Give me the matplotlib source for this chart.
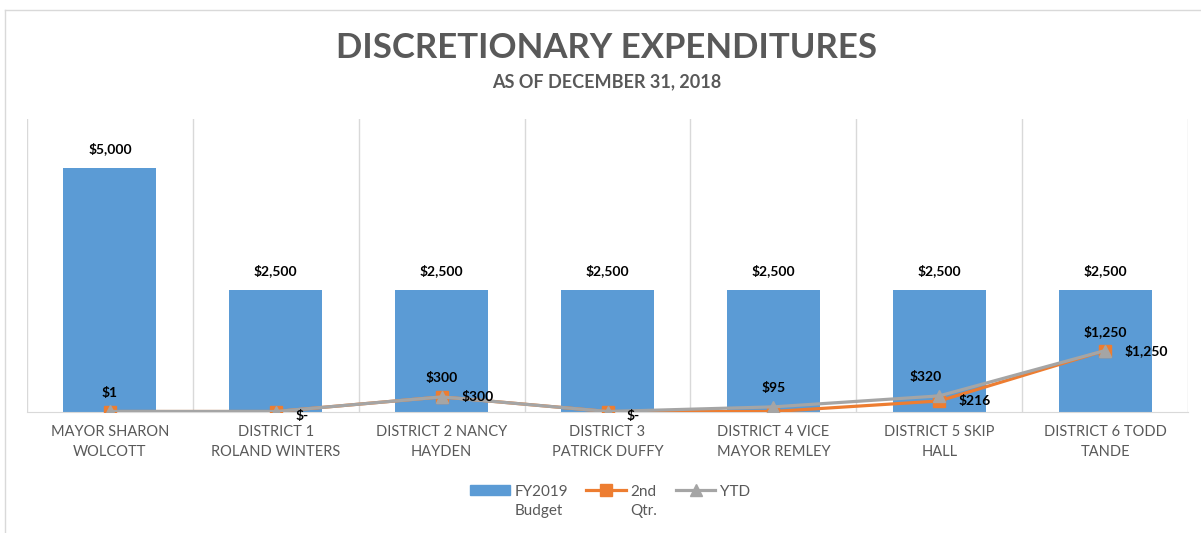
import matplotlib
matplotlib.use("Agg")
import matplotlib.pyplot as plt
from matplotlib.patches import Patch
from matplotlib.lines import Line2D
from matplotlib.offsetbox import HPacker

plt.rcParams['font.family'] = ['Lato', 'DejaVu Sans']

# Данные
categories = ["MAYOR SHARON\nWOLCOTT", "DISTRICT 1\nROLAND WINTERS", "DISTRICT 2 NANCY\nHAYDEN",
              "DISTRICT 3\nPATRICK DUFFY", "DISTRICT 4 VICE\nMAYOR REMLEY", "DISTRICT 5 SKIP\nHALL",
              "DISTRICT 6 TODD\nTANDE"]
budget = [5000, 2500, 2500, 2500, 2500, 2500, 2500]
qtr2 = [0, 0, 300, 0, 0, 216, 1250]
ytd = [1, 0, 300, 0, 95, 320, 1250]
qtr2_labels = [None, "$-", "$300", "$-", None, "$216", "$1,250"]
ytd_labels = ["$1", None, "$300", None, "$95", "$320", "$1,250"]

blue = '#5B9BD5'
orange = '#ED7D31'
gray = '#A5A5A5'
txt = '#595959'

fig = plt.figure(figsize=(12.01, 5.33), dpi=100)
ax = fig.add_axes([27 / 1201, (533 - 411.5) / 533, 1161 / 1201, 292.5 / 533])

x = list(range(len(categories)))
ax.bar(x, budget, width=0.56, color=blue, zorder=2)
ax.plot(x, qtr2, color=orange, lw=2.3, marker='s', ms=8, zorder=3)
ax.plot(x, ytd, color=gray, lw=2.3, marker='^', ms=9, zorder=4)

ax.set_xlim(-0.5, len(categories) - 0.5)
ax.set_ylim(0, 6000)

# Подписи над столбцами
for i, v in enumerate(budget):
    ax.annotate(f"${v:,}", (i, v), xytext=(0, 9), textcoords='offset points',
                ha='center', va='bottom', fontsize=10, fontweight='bold', color='black')

# Подписи линий
for i, lab in enumerate(qtr2_labels):
    if lab:
        dy = -3 if lab == "$-" else 0
        ax.annotate(lab, (i, qtr2[i]), xytext=(14, dy), textcoords='offset points',
                    ha='left', va='center', fontsize=10, fontweight='bold', color='black',
                    zorder=6)
for i, lab in enumerate(ytd_labels):
    if lab:
        dx = -10 if i == 5 else 0
        ax.annotate(lab, (i, ytd[i]), xytext=(dx, 9), textcoords='offset points',
                    ha='center', va='bottom', fontsize=10, fontweight='bold', color='black',
                    zorder=6)

# Вертикальные разделители категорий
for b in range(len(categories) + 1):
    ax.axvline(b - 0.5, color='#D9D9D9', lw=1, zorder=1)

ax.set_xticks(x)
ax.set_xticklabels(categories, fontsize=10.5, color=txt, linespacing=1.5)
ax.tick_params(axis='x', length=0, pad=10)
ax.set_yticks([])
for s in ['top', 'left', 'right']:
    ax.spines[s].set_visible(False)
ax.spines['bottom'].set_color('#D9D9D9')

fig.text(0.505, 1 - 48 / 533, "DISCRETIONARY EXPENDITURES", ha='center', va='center',
         fontsize=25, fontweight='bold', color=txt)
fig.text(0.505, 1 - 82 / 533, "AS OF DECEMBER 31, 2018", ha='center', va='center',
         fontsize=13, fontweight='bold', color=txt)

handles = [Patch(color=blue),
           Line2D([], [], color=orange, lw=2.3, marker='s', ms=8),
           Line2D([], [], color=gray, lw=2.3, marker='^', ms=9)]
leg = fig.legend(handles, ["FY2019\nBudget", "2nd\nQtr.", "YTD"], loc='upper center',
                 bbox_to_anchor=(610 / 1201, 1 - 477 / 533), ncol=3, frameon=False, fontsize=11,
                 labelcolor=txt, handlelength=2.6, handletextpad=0.3, columnspacing=1.2,
                 borderpad=0)
for t in leg.get_texts():
    t.set_multialignment('left')
    t.set_linespacing(1.45)
# маркер легенды на уровне первой строки подписи
for p in leg.findobj(HPacker):
    p.align = 'top'

# Рамка
fig.add_artist(Line2D([5 / 1201, 1], [1 - 10 / 533, 1 - 10 / 533], color='#D9D9D9', lw=1))
fig.add_artist(Line2D([5 / 1201, 5 / 1201], [0, 1 - 10 / 533], color='#D9D9D9', lw=1))

fig.savefig("out.png", dpi=100)
